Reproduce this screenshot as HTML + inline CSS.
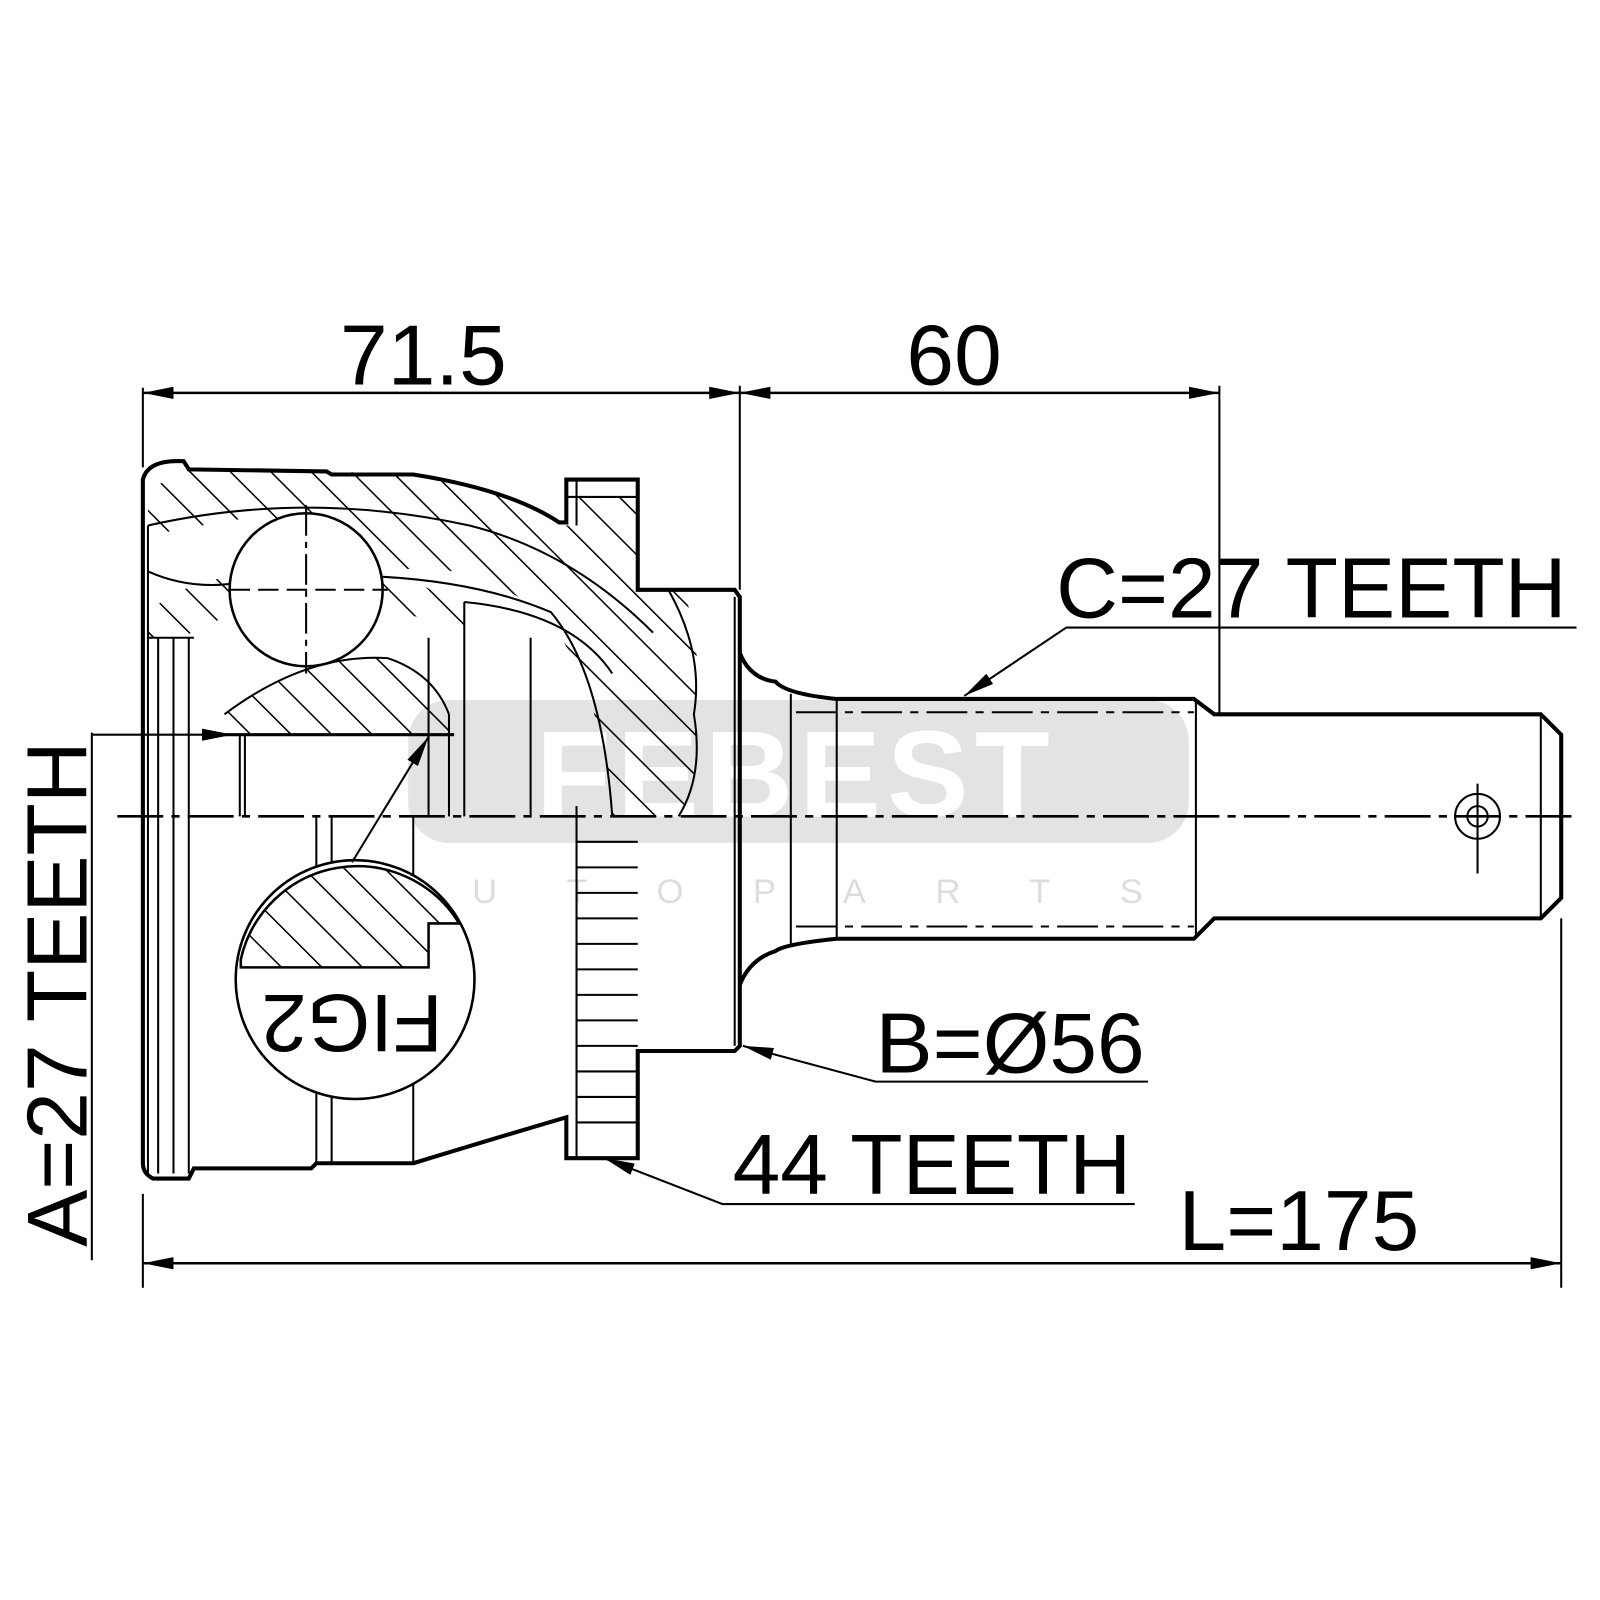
<!DOCTYPE html>
<html><head><meta charset="utf-8"><style>html,body{margin:0;padding:0;background:#fff}svg{display:block}</style></head>
<body>
<svg width="1600" height="1600" viewBox="0 0 1600 1600" xmlns="http://www.w3.org/2000/svg" font-family="Liberation Sans, sans-serif">
<defs>
<pattern id="h" patternUnits="userSpaceOnUse" width="28" height="28" patternTransform="rotate(-45)">
<line x1="0" y1="0" x2="0" y2="28" stroke="#000" stroke-width="3"/>
</pattern>
<marker id="ab" viewBox="0 0 30 12" markerWidth="30" markerHeight="12" refX="30" refY="6" orient="auto-start-reverse" markerUnits="userSpaceOnUse"><path d="M0,0L30,6L0,12Z" fill="#000"/></marker>
</defs>
<g transform="scale(1.0204)">
<!-- watermark -->
<rect x="400" y="686" width="765" height="140" rx="40" fill="#e3e3e3"/>
<text x="780" y="800" font-size="120" font-weight="bold" fill="#fff" text-anchor="middle" letter-spacing="6">FEBEST</text>
<text x="780" y="885" font-size="34" fill="#ddd" text-anchor="middle" letter-spacing="68">AUTOPARTS</text>

<g fill="none" stroke="#000">
<line x1="140" y1="380" x2="140" y2="458" stroke-width="2"/>
<line x1="725" y1="378" x2="725" y2="578" stroke-width="2"/>
<line x1="1195" y1="378" x2="1195" y2="700" stroke-width="2"/>
<line x1="140" y1="385" x2="725" y2="385" stroke-width="2.5" marker-end="url(#ab)" marker-start="url(#ab)"/>
<line x1="725" y1="385" x2="1195" y2="385" stroke-width="2.5" marker-end="url(#ab)" marker-start="url(#ab)"/>

<path d="M145,480 L185,460 L320,462 L405,465 Q500,480 548,512 L555,515 L625,515 L625,578 L670,578 Q690,640 680,700 Q690,760 665,800 L600,800 Q590,680 540,610 Q470,545 380,560 L360,535 Q300,500 225,510 Q170,520 145,525 Z" fill="url(#h)" stroke="none"/>
<path d="M145,600 Q180,570 230,565 L240,600 Q200,610 180,625 L145,625 Z" fill="url(#h)" stroke="none"/>
<path d="M370,560 Q420,570 455,600 L455,620 Q410,600 370,600 Z" fill="url(#h)" stroke="none"/>
<path d="M220,700 Q300,640 380,645 Q425,660 440,700 L440,720 L220,720 Z" fill="url(#h)" stroke="none"/>
<rect x="565" y="487" width="60" height="28" fill="url(#h)" stroke="none"/>

<path d="M140,470 Q145,450 180,452 L185,460 L320,462 L325,465 L405,465 Q500,480 548,512 L555,512 L555,470 L625,470 L625,578 L720,578 L725,585 L725,1025 L720,1030 L625,1030 L625,1135 L555,1135 L555,1095 Q470,1120 405,1140 L310,1140 L305,1145 L190,1145 L185,1155 L150,1155 Q140,1150 140,1140 Z" stroke-width="4"/>
<line x1="145" y1="515" x2="145" y2="1150" stroke-width="2"/>
<path d="M145,515 Q300,480 460,515 Q560,540 640,620" stroke-width="2"/>
<path d="M145,560 Q190,580 240,570" stroke-width="2"/>
<path d="M370,565 Q470,570 540,600 Q590,660 600,800" stroke-width="2"/>
<path d="M455,590 Q560,600 600,660" stroke-width="2"/>
<path d="M655,578 Q690,640 680,700 Q690,760 665,800" stroke-width="2"/>
<line x1="555" y1="487" x2="625" y2="487" stroke-width="2"/>
<line x1="565" y1="470" x2="565" y2="515" stroke-width="2"/>
<line x1="155" y1="625" x2="155" y2="1150" stroke-width="2"/>
<line x1="170" y1="625" x2="170" y2="1150" stroke-width="2"/>
<line x1="185" y1="625" x2="185" y2="1150" stroke-width="2"/>
<line x1="145" y1="625" x2="190" y2="625" stroke-width="2"/>
<line x1="235" y1="720" x2="235" y2="800" stroke-width="2"/>
<line x1="240" y1="720" x2="240" y2="800" stroke-width="2"/>
<line x1="310" y1="800" x2="310" y2="1140" stroke-width="2"/>
<line x1="325" y1="800" x2="325" y2="1140" stroke-width="2"/>
<line x1="405" y1="800" x2="405" y2="1140" stroke-width="2"/>
<line x1="420" y1="625" x2="420" y2="800" stroke-width="2"/>
<line x1="440" y1="700" x2="440" y2="800" stroke-width="2"/>
<line x1="455" y1="590" x2="455" y2="800" stroke-width="2"/>
<line x1="520" y1="625" x2="520" y2="800" stroke-width="2"/>
<line x1="220" y1="720" x2="445" y2="720" stroke-width="3"/>
<path d="M220,700 Q300,640 380,645 Q425,660 440,700" stroke-width="2"/>
<circle cx="300" cy="578" r="75" fill="#fff" stroke-width="2.5"/>
<line x1="300" y1="495" x2="300" y2="660" stroke-width="2" stroke-dasharray="30,6,6,6"/>
<line x1="225" y1="578" x2="380" y2="578" stroke-width="2" stroke-dasharray="20,8"/>
<line x1="565" y1="790" x2="565" y2="1135" stroke-width="2"/>
<g stroke-width="2">
<line x1="565" y1="825" x2="625" y2="825"/><line x1="565" y1="850" x2="625" y2="850"/><line x1="565" y1="875" x2="625" y2="875"/><line x1="565" y1="900" x2="625" y2="900"/><line x1="565" y1="925" x2="625" y2="925"/><line x1="565" y1="950" x2="625" y2="950"/><line x1="565" y1="975" x2="625" y2="975"/><line x1="565" y1="1000" x2="625" y2="1000"/><line x1="565" y1="1025" x2="625" y2="1025"/><line x1="565" y1="1050" x2="625" y2="1050"/><line x1="565" y1="1075" x2="625" y2="1075"/><line x1="565" y1="1100" x2="625" y2="1100"/>
</g>
<line x1="720" y1="585" x2="720" y2="1025" stroke-width="2"/>
<path d="M725,640 Q735,665 760,668 Q770,680 820,685 L1170,685 L1190,700 L1510,700 L1530,720 L1530,880 L1510,900 L1190,900 L1170,920 L820,920 Q770,925 760,932 Q735,940 725,965" stroke-width="4"/>
<line x1="775" y1="680" x2="775" y2="925" stroke-width="2"/>
<line x1="820" y1="685" x2="820" y2="920" stroke-width="2"/>
<line x1="1172" y1="688" x2="1172" y2="918" stroke-width="2"/>
<line x1="1510" y1="700" x2="1510" y2="900" stroke-width="2"/>
<line x1="780" y1="698" x2="1170" y2="698" stroke-width="2" stroke-dasharray="40,8,8,8"/>
<line x1="780" y1="908" x2="1170" y2="908" stroke-width="2" stroke-dasharray="40,8,8,8"/>
<circle cx="1448" cy="800" r="22" stroke-width="2"/>
<circle cx="1448" cy="800" r="10" stroke-width="2"/>
<line x1="1448" y1="768" x2="1448" y2="856" stroke-width="2"/>
<line x1="115" y1="800" x2="1545" y2="800" stroke-width="2.5" stroke-dasharray="45,8,8,8"/>
<circle cx="348" cy="960" r="117" fill="#fff" stroke-width="2.5"/>
<path d="M236,948 L420,948 L420,905 L450,905 A117,117 0 0 0 236,940 Z" fill="url(#h)" stroke-width="2.5"/>
<line x1="90" y1="718" x2="90" y2="1235" stroke-width="2"/>
<line x1="90" y1="720" x2="228" y2="720" stroke-width="2" marker-end="url(#ab)"/>
<line x1="345" y1="845" x2="420" y2="722" stroke-width="2" marker-end="url(#ab)"/>
<polyline points="1545,615 1045,615 945,682" stroke-width="2" marker-end="url(#ab)"/>
<polyline points="1125,1060 858,1060 728,1025" stroke-width="2" marker-end="url(#ab)"/>
<polyline points="1112,1180 708,1180 592,1135" stroke-width="2" marker-end="url(#ab)"/>
<line x1="140" y1="1170" x2="140" y2="1262" stroke-width="2"/>
<line x1="1530" y1="900" x2="1530" y2="1262" stroke-width="2"/>
<line x1="140" y1="1238" x2="1530" y2="1238" stroke-width="2.5" marker-end="url(#ab)" marker-start="url(#ab)"/>
</g>

<g font-size="84" fill="#000">
<text x="415" y="377" text-anchor="middle">71.5</text>
<text x="935" y="377" text-anchor="middle">60</text>
<text x="1035" y="605">C=27 TEETH</text>
<text x="858" y="1051">B=Ø56</text>
<text x="718" y="1170">44 TEETH</text>
<text x="1155" y="1225">L=175</text>
<text transform="translate(85,1222) rotate(-90)">A=27 TEETH</text>
<text transform="translate(345,975) rotate(180)" text-anchor="middle" font-size="80">FIG2</text>
</g>
</g>
</svg>
</body></html>
